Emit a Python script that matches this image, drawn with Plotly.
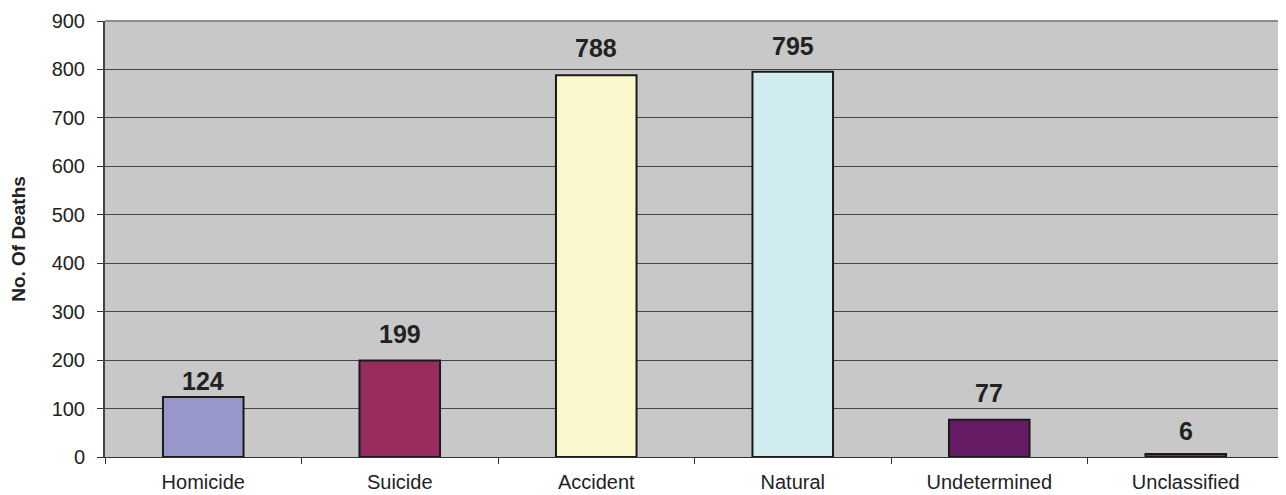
import plotly.graph_objects as go

categories = ["Homicide", "Suicide", "Accident", "Natural", "Undetermined", "Unclassified"]
deaths = [124, 199, 788, 795, 77, 6]
bar_colors = ["#9797C9", "#982C5F", "#FBF8CD", "#D1ECF1", "#661C65", "#6E3B3B"]
y_ticks = [0, 100, 200, 300, 400, 500, 600, 700, 800, 900]
label_shift = [0, 11, 11, 10, 11, 7]  # pixel offsets of value labels above bars

fig = go.Figure()
fig.add_trace(go.Bar(
    x=categories, y=deaths,
    marker=dict(color=bar_colors, line=dict(color="#1a1a1a", width=2)),
    width=0.41,
    hoverinfo="x+y",
))

for cat, val, sh in zip(categories, deaths, label_shift):
    fig.add_annotation(
        x=cat, y=val, text=f"<b>{val}</b>", showarrow=False,
        xanchor="center", yanchor="bottom", yshift=sh,
        font=dict(family="Liberation Sans, Arial", size=25, color="#222222"),
    )

# grey frame on top and right of plot area
fig.add_shape(type="line", xref="paper", yref="paper", x0=0, x1=1, y0=1, y1=1,
              line=dict(color="#8E8E8E", width=2))
fig.add_shape(type="line", xref="paper", yref="paper", x0=1, x1=1, y0=0, y1=1,
              line=dict(color="#8E8E8E", width=2))

fig.update_layout(
    width=1278, height=487,
    margin=dict(l=97, r=2, t=11, b=37),
    paper_bgcolor="white", plot_bgcolor="#C8C8C9",
    showlegend=False,
    font=dict(family="Liberation Sans, Arial", color="#222222"),
)
fig.update_xaxes(
    type="category", tickson="boundaries", ticks="outside", ticklen=6, tickcolor="#333333",
    tickfont=dict(size=20, color="#222222"), ticklabelstandoff=7, showgrid=False,
    showline=True, linecolor="#333333", linewidth=1, mirror=False,
)
fig.update_yaxes(
    range=[0, 900], tickvals=y_ticks, ticks="outside", ticklen=6, tickcolor="#333333",
    tickfont=dict(size=20, color="#222222"), ticklabelstandoff=8,
    showgrid=True, gridcolor="#454545", gridwidth=1,
    showline=True, linecolor="#444444", linewidth=2,
    zeroline=False,
    title=dict(text="<b>No. Of Deaths</b>", font=dict(size=19, color="#222222"), standoff=22),
)
fig.write_html("out.html")
